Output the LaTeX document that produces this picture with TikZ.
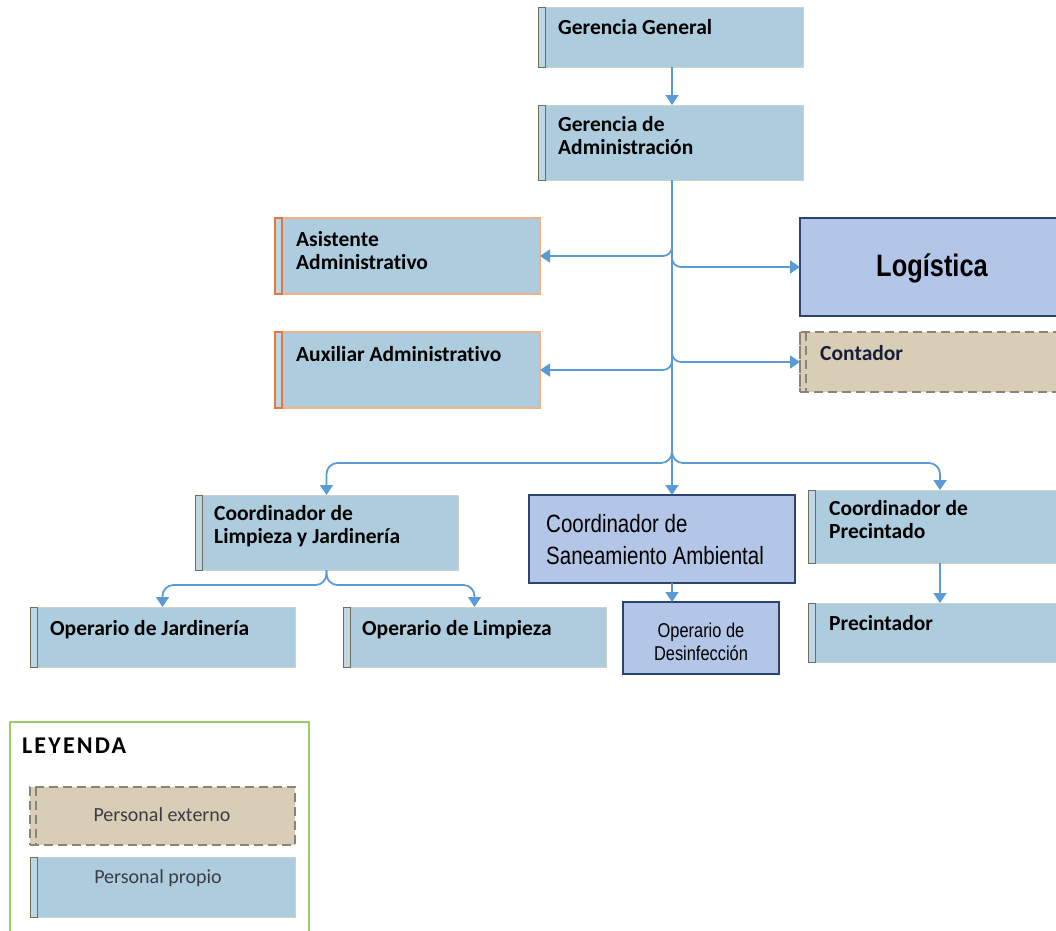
\documentclass[tikz,border=0pt]{standalone}
\usepackage{fontspec}
\setmainfont[Ligatures=NoCommon]{Carlito}
\newfontfamily\narrowfont[FakeStretch=0.82]{Liberation Sans}
\newfontfamily\legendfont[LetterSpace=9]{Carlito}
\usetikzlibrary{arrows.meta}
\definecolor{boxblue}{RGB}{173,205,222}
\definecolor{boxline}{RGB}{200,212,200}
\definecolor{barline}{RGB}{110,110,90}
\definecolor{orangeline}{RGB}{244,177,131}
\definecolor{orangebar}{RGB}{226,121,60}
\definecolor{logblue}{RGB}{180,198,231}
\definecolor{lognavy}{RGB}{46,68,112}
\definecolor{tanfill}{RGB}{216,205,181}
\definecolor{tanline}{RGB}{138,132,120}
\definecolor{connblue}{RGB}{91,155,213}
\definecolor{legendgreen}{RGB}{155,203,107}
\definecolor{txtgray}{RGB}{60,60,70}
\begin{document}
\begin{tikzpicture}[x=1pt,y=-1pt,
  base/.style={anchor=north west, inner sep=0pt, outer sep=0pt},
  propio/.style={base, fill=boxblue, draw=boxline, line width=0.8pt},
  naranja/.style={base, fill=boxblue, draw=orangeline, line width=1.2pt},
  fuerte/.style={base, fill=logblue, draw=lognavy, line width=2.2pt},
  externo/.style={base, fill=tanfill, draw=tanline, line width=1.6pt, dash pattern=on 9pt off 5pt},
  barp/.style={fill=boxblue!80!white, draw=barline, line width=1pt},
  baro/.style={fill=boxblue!80!white, draw=orangebar, line width=1.2pt},
  bare/.style={draw=tanline, line width=1.4pt, dash pattern=on 9pt off 5pt},
  lbl/.style={anchor=base west, inner sep=0pt, align=left, text=black,
    font=\fontsize{21.5}{22.5}\selectfont\bfseries},
  narrowlbl/.style={inner sep=0pt, text=black},
  conn/.style={draw=connblue, line width=1.8pt, -{Triangle[width=13pt,length=10pt]}},
  branchconn/.style={conn, rounded corners=9pt}
]
\useasboundingbox (0,0) rectangle (1056,930);
\clip (0,0) rectangle (1056,930);

% boxes
\node[propio, minimum width=265pt, minimum height=60pt] (gg) at (538,7) {};
\draw[barp] (538,7) rectangle (545,67);
\node[lbl] at (558,34) {Gerencia General};

\node[propio, minimum width=265pt, minimum height=75pt] (ga) at (538,105) {};
\draw[barp] (538,105) rectangle (545,180);
\node[lbl] at (558,154) {Gerencia de\\Administración};

\node[naranja, minimum width=265pt, minimum height=76pt] (aa) at (275,218) {};
\draw[baro] (275,218) rectangle (282,294);
\node[lbl] at (296,269) {Asistente\\Administrativo};

\node[naranja, minimum width=265pt, minimum height=76pt] (ax) at (275,332) {};
\draw[baro] (275,332) rectangle (282,408);
\node[lbl] at (296,361) {Auxiliar Administrativo};

\node[fuerte, minimum width=290pt, minimum height=98pt] (lg) at (800,218) {};
\node[narrowlbl, font=\fontsize{31}{34}\selectfont\narrowfont\bfseries] at (932,268) {Logística};

\node[externo, minimum width=290pt, minimum height=60pt] (ct) at (800,332) {};
\draw[bare] (800,332) -- (800,392);
\draw[bare] (806,332) -- (806,392);
\node[lbl, text={rgb,255:red,25;green,30;blue,60}] at (820,360) {Contador};

\node[propio, minimum width=263pt, minimum height=75pt] (cl) at (195,495) {};
\draw[barp] (195,495) rectangle (202,570);
\node[lbl] at (214,543) {Coordinador de\\Limpieza y Jardinería};

\node[fuerte, minimum width=266pt, minimum height=88pt] (cs) at (529,495) {};
\node[narrowlbl, anchor=base west, align=left, font=\fontsize{25}{32}\selectfont\narrowfont] at (546,564) {Coordinador de\\Saneamiento Ambiental};

\node[propio, minimum width=264pt, minimum height=73pt] (cp) at (808,490) {};
\draw[barp] (808,490) rectangle (815,563);
\node[lbl] at (829,538) {Coordinador de\\Precintado};

\node[propio, minimum width=265pt, minimum height=60pt] (oj) at (30,607) {};
\draw[barp] (30,607) rectangle (37,667);
\node[lbl] at (50,635) {Operario de Jardinería};

\node[propio, minimum width=263pt, minimum height=60pt] (ol) at (343,607) {};
\draw[barp] (343,607) rectangle (350,667);
\node[lbl] at (362,635) {Operario de Limpieza};

\node[fuerte, minimum width=156pt, minimum height=72pt] (od) at (623,602) {};
\node[narrowlbl, anchor=base, align=center, font=\fontsize{20}{23}\selectfont\narrowfont] at (701,660) {Operario de\\Desinfección};

\node[propio, minimum width=264pt, minimum height=59pt] (pr) at (808,603) {};
\draw[barp] (808,603) rectangle (815,662);
\node[lbl] at (829,630) {Precintador};

% connectors
\coordinate (trunk) at (672,0);
\draw[conn] (gg.south -| trunk) -- (ga.north -| trunk);
\draw[conn] (ga.south -| trunk) -- (cs.north -| trunk);
\draw[branchconn] (672,236) -- (672,256) -- (aa.east);
\draw[branchconn] (672,246) -- (672,267) -- (lg.west);
\draw[branchconn] (672,350) -- (672,370) -- (ax.east);
\draw[branchconn] (672,340) -- (672,362) -- (ct.west);
\draw[conn, rounded corners=11pt] (672,440) -- (672,463) -- (cl.north |- 0,463) -- (cl.north);
\draw[conn, rounded corners=11pt] (672,440) -- (672,463) -- (cp.north |- 0,463) -- (cp.north);
\draw[conn, rounded corners=11pt] (cl.south) -- (cl.south |- 0,585) -- (oj.north |- 0,585) -- (oj.north);
\draw[conn, rounded corners=11pt] (cl.south) -- (cl.south |- 0,585) -- (ol.north |- 0,585) -- (ol.north);
\draw[conn] (cs.south -| trunk) -- (od.north -| trunk);
\draw[conn] (cp.south) -- (pr.north);

% legend
\node[base, draw=legendgreen, line width=1.5pt, fill=white, minimum width=299pt, minimum height=240pt] (ley) at (10,722) {};
\node[lbl, font=\fontsize{24}{24}\selectfont\legendfont\bfseries] at (22,753) {LEYENDA};
\node[externo, minimum width=265pt, minimum height=58pt] (le) at (30,787) {};
\draw[bare] (30,787) -- (30,845);
\draw[bare] (36,787) -- (36,845);
\node[narrowlbl, text=txtgray, font=\fontsize{20}{22}\selectfont] at (162,815) {Personal externo};
\node[propio, minimum width=265pt, minimum height=60pt] (lp) at (30,857) {};
\draw[barp] (30,857) rectangle (37,917);
\node[narrowlbl, text=txtgray, font=\fontsize{20}{22}\selectfont] at (158,878) {Personal propio};
\end{tikzpicture}
\end{document}
